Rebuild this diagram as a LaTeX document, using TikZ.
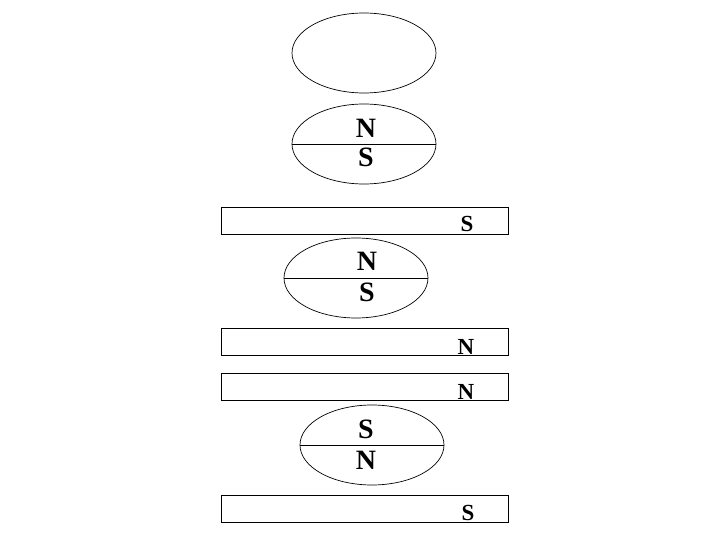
\documentclass[tikz,border=0pt]{standalone}
\usepackage{fontspec}
\setmainfont{Liberation Serif}
\usetikzlibrary{shapes.geometric,positioning}

\begin{document}
\begin{tikzpicture}[x=1pt,y=-1pt,line width=0.7pt,
  magnet/.style={draw,ellipse,minimum width=144pt,minimum height=80pt,inner sep=0pt},
  bar/.style={draw,minimum width=287pt,minimum height=27pt,inner sep=0pt},
  pole/.style={anchor=base,inner sep=0pt,font=\fontsize{28}{28}\selectfont\bfseries},
  tag/.style={anchor=base,inner sep=0pt,font=\fontsize{23}{23}\selectfont\bfseries}]
\useasboundingbox (0,0) rectangle (720,540);

% ring on top, then the magnets and bars
\node[magnet] (E0) at (364,53) {};

\node[magnet] (E1) at (364,144) {};
\draw (E1.west) -- (E1.east);
\node[pole] (E1n) at (366,138) {N};
\node[pole] (E1s) at (366,167) {S};

\node[bar] (B1) at (364.5,220.5) {};
\node[tag] (B1s) at (467,232) {S};

\node[magnet] (E2) at (356,278) {};
\draw (E2.west) -- (E2.east);
\node[pole] (E2n) at (367,270) {N};
\node[pole] (E2s) at (367,301) {S};

\node[bar] (B2) at (364.5,341.5) {};
\node[tag] (B2n) at (466,354) {N};
\node[bar] (B3) at (364.5,386.5) {};
\node[tag] (B3n) at (466,399) {N};

\node[magnet] (E3) at (372,445) {};
\draw (E3.west) -- (E3.east);
\node[pole] (E3s) at (366,438) {S};
\node[pole] (E3n) at (366,469) {N};

\node[bar] (B4) at (364.5,508.5) {};
\node[tag] (B4s) at (468,520) {S};
\end{tikzpicture}
\end{document}
